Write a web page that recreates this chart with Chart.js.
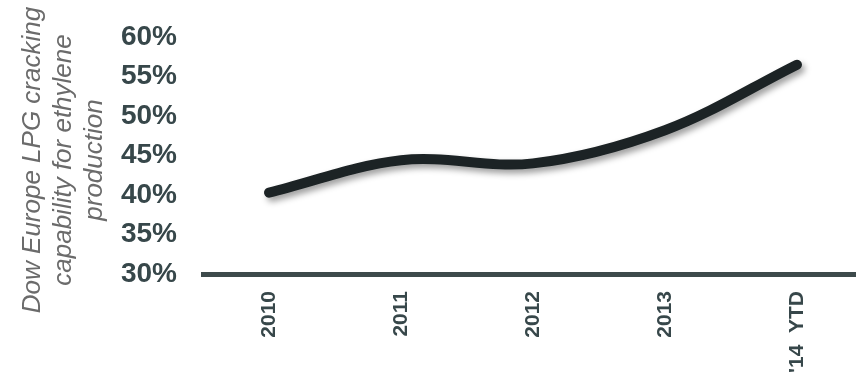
<!DOCTYPE html>
<html>
<head>
<meta charset="utf-8">
<script src="https://cdn.jsdelivr.net/npm/chart.js@4/dist/chart.umd.min.js"></script>
<style>
  html, body { margin: 0; padding: 0; background: #ffffff; overflow: hidden; }
  #wrap { position: relative; width: 856px; height: 383px; }
</style>
</head>
<body>
<div id="wrap"><canvas id="c"></canvas></div>
<script>
// Share of Dow Europe's ethylene production from LPG cracking
const categories = ['2010', '2011', '2012', '2013', "'14  YTD"];
const shareValues = [40.3, 44.4, 44.0, 48.2, 56.5];
const yTicks = [30, 35, 40, 45, 50, 55, 60];
const axisTitleLines = ['Dow Europe LPG cracking', 'capability for ethylene', 'production'];

const FONT = "'Liberation Sans', Arial, sans-serif";
const TEXT = '#37474a';

// Rotated, italic axis title on the far left
const axisTitlePlugin = {
  id: 'axisTitle',
  afterDraw(chart) {
    const ctx = chart.ctx;
    const xs = [33, 64, 95];
    ctx.save();
    ctx.font = 'italic 26px ' + FONT;
    ctx.fillStyle = '#6b6b6b';
    ctx.textAlign = 'center';
    ctx.textBaseline = 'middle';
    axisTitleLines.forEach((t, i) => {
      ctx.save();
      ctx.translate(xs[i], 160);
      ctx.rotate(-Math.PI / 2);
      ctx.fillText(t, 0, 0);
      ctx.restore();
    });
    ctx.restore();
  }
};

// Soft drop shadow under the line
const shadowPlugin = {
  id: 'lineShadow',
  beforeDatasetDraw(chart) {
    const ctx = chart.ctx;
    ctx.save();
    ctx.shadowColor = 'rgba(0,0,0,0.38)';
    ctx.shadowBlur = 6;
    ctx.shadowOffsetX = 3;
    ctx.shadowOffsetY = 4;
  },
  afterDatasetDraw(chart) {
    chart.ctx.restore();
  }
};

function clearScalePadding(scale) {
  scale.paddingTop = 0;
  scale.paddingBottom = 0;
  scale.paddingLeft = 0;
  scale.paddingRight = 0;
}

new Chart(document.getElementById('c'), {
  type: 'line',
  data: {
    datasets: [{
      data: shareValues.map((v, i) => ({ x: i, y: v })),
      borderColor: '#1c2325',
      borderWidth: 10,
      borderCapStyle: 'round',
      borderJoinStyle: 'round',
      tension: 0.35,
      pointRadius: 0,
      fill: false,
      clip: false
    }]
  },
  options: {
    responsive: true,
    maintainAspectRatio: false,
    animation: false,
    layout: { padding: { top: 37, left: 0, right: 0, bottom: 0 } },
    plugins: { legend: { display: false }, tooltip: { enabled: false } },
    scales: {
      x: {
        type: 'linear',
        min: -0.5,
        max: 4.447,
        afterBuildTicks(scale) {
          scale.ticks = categories.map((c, i) => ({ value: i }));
        },
        afterFit(scale) { scale.height = 109; clearScalePadding(scale); },
        grid: { display: false, drawTicks: false },
        border: { display: true, color: '#3d4a4b', width: 5 },
        ticks: {
          autoSkip: false,
          maxRotation: 90,
          minRotation: 90,
          padding: 17,
          color: TEXT,
          font: { family: FONT, size: 21, weight: 'bold' },
          callback: (v) => categories[v]
        }
      },
      y: {
        min: 30,
        max: 60,
        afterBuildTicks(scale) {
          scale.ticks = yTicks.map(v => ({ value: v }));
        },
        afterFit(scale) { scale.width = 203; clearScalePadding(scale); },
        grid: { display: false, drawTicks: false },
        border: { display: false },
        ticks: {
          padding: 26,
          color: TEXT,
          font: { family: FONT, size: 28, weight: 'bold' },
          callback: (v) => v + '%'
        }
      }
    }
  },
  plugins: [shadowPlugin, axisTitlePlugin]
});
</script>
</body>
</html>
